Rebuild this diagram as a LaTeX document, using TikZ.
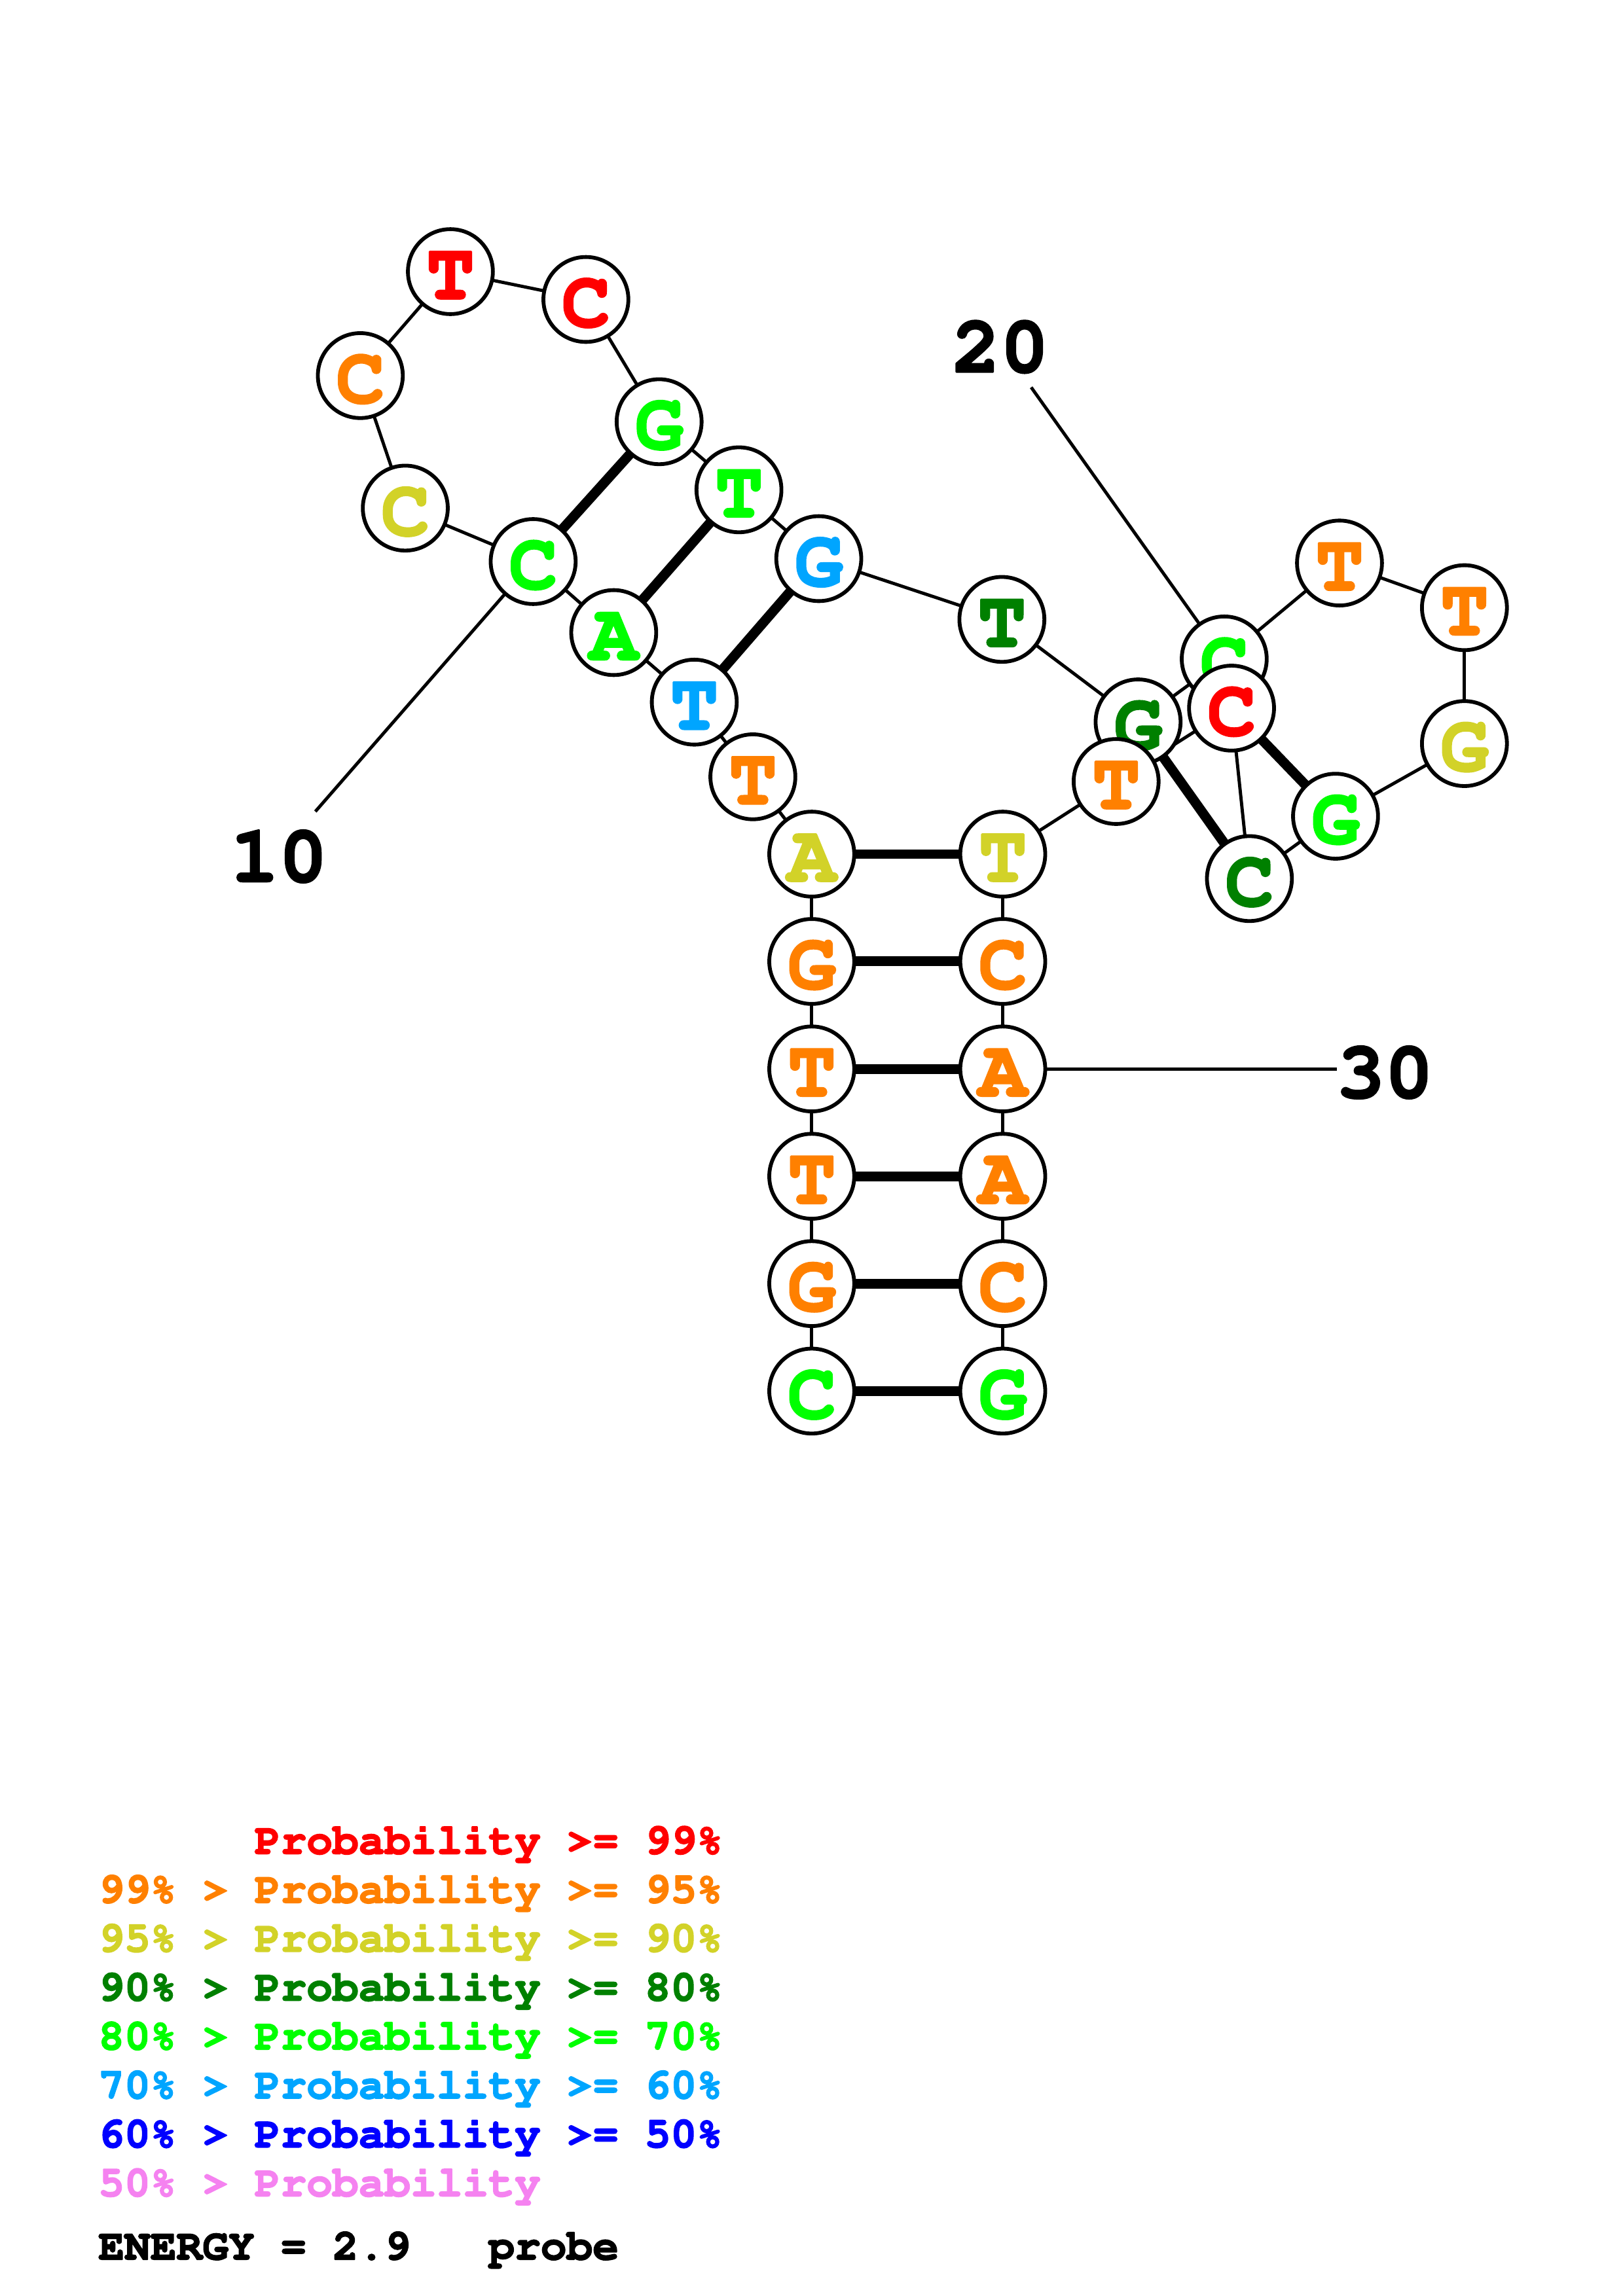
\documentclass[tikz,border=0pt]{standalone}
\usepackage[T1]{fontenc}
\newcommand{\cour}{\fontencoding{T1}\fontfamily{pcr}\fontseries{b}\selectfont}
\definecolor{pRed}{RGB}{255,0,0}
\definecolor{pOrange}{RGB}{255,128,0}
\definecolor{pYellow}{RGB}{210,210,40}
\definecolor{pDGreen}{RGB}{0,128,0}
\definecolor{pGreen}{RGB}{0,255,0}
\definecolor{pCyan}{RGB}{0,165,255}
\definecolor{pBlue}{RGB}{0,0,255}
\definecolor{pPink}{RGB}{245,130,240}
\pgfdeclarelayer{paper}
\pgfdeclarelayer{background}
\pgfsetlayers{paper,background,main}
\begin{document}
\begin{tikzpicture}[x=1pt,y=-1pt,
  heavy/.style={execute at begin node={\special{pdf:literal direct 2 Tr #1 w 1 j}},
                execute at end node={\special{pdf:literal direct 0 Tr 0 j}}},
  nt/.style={circle,draw=black,line width=2.6pt,fill=white,minimum size=58pt,inner sep=0pt,
    font={\cour\fontsize{55}{55}\selectfont},text height=37pt,text depth=0pt,heavy=1.3},
  bb/.style={line width=2.2pt},
  bp/.style={line width=6.7pt},
  lbl/.style={font={\cour\fontsize{55}{55}\selectfont},anchor=base,inner sep=0pt,heavy=1.3},
  leg/.style={font={\cour\fontsize{29.6}{30}\selectfont},anchor=base west,inner sep=0pt,heavy=0.8}]
\useasboundingbox (0,0) rectangle (1108,1568);
\begin{pgfonlayer}{paper}
  \fill[white] (0,0) rectangle (1108,1568);
\end{pgfonlayer}
% nucleotides
\node[nt,text=pGreen]  (n1)  at (554.2,950)   {C};
\node[nt,text=pOrange] (n2)  at (554.2,876.6) {G};
\node[nt,text=pOrange] (n3)  at (554.2,803.3) {T};
\node[nt,text=pOrange] (n4)  at (554.2,730)   {T};
\node[nt,text=pOrange] (n5)  at (554.2,656.6) {G};
\node[nt,text=pYellow] (n6)  at (554.2,583.3) {A};
\node[nt,text=pOrange] (n7)  at (514,530.5)   {T};
\node[nt,text=pCyan]   (n8)  at (474,479.5)   {T};
\node[nt,text=pGreen]  (n9)  at (419,432)     {A};
\node[nt,text=pGreen]  (n10) at (364,383.5)   {C};
\node[nt,text=pYellow] (n11) at (276.7,347)   {C};
\node[nt,text=pOrange] (n12) at (246,256.5)   {C};
\node[nt,text=pRed]    (n13) at (307.5,185.5) {T};
\node[nt,text=pRed]    (n14) at (400,204.5)   {C};
\node[nt,text=pGreen]  (n15) at (450,288)     {G};
\node[nt,text=pGreen]  (n16) at (504.5,334.5) {T};
\node[nt,text=pCyan]   (n17) at (559,381.5)   {G};
\node[nt,text=pDGreen] (n18) at (684,423)     {T};
\node[nt,text=pDGreen] (n19) at (777,493)     {G};
\node[nt,text=pGreen]  (n20) at (835.8,450)   {C};
\node[nt,text=pOrange] (n21) at (914.5,384.5) {T};
\node[nt,text=pOrange] (n22) at (999.8,415)   {T};
\node[nt,text=pYellow] (n23) at (999.8,507.8) {G};
\node[nt,text=pGreen]  (n24) at (911.8,557.4) {G};
\node[nt,text=pDGreen] (n25) at (853,600)     {C};
\node[nt,text=pRed]    (n26) at (840.8,483.6) {C};
\node[nt,text=pOrange] (n27) at (762,533.7)   {T};
\node[nt,text=pYellow] (n28) at (684.6,583.3) {T};
\node[nt,text=pOrange] (n29) at (684.6,656.6) {C};
\node[nt,text=pOrange] (n30) at (684.6,730)   {A};
\node[nt,text=pOrange] (n31) at (684.6,803.3) {A};
\node[nt,text=pOrange] (n32) at (684.6,876.6) {C};
\node[nt,text=pGreen]  (n33) at (684.6,950)   {G};
% number labels
\node[lbl] (l10) at (190.5,602) {10};
\node[lbl] (l20) at (683,254) {20};
\node[lbl] (l30) at (945.5,749.5) {30};
\coordinate (e10) at (215.3,554.2);
\coordinate (e20) at (704,264.5);
\coordinate (e30) at (912.6,730);
\begin{pgfonlayer}{background}
  \foreach \a/\b in {1/2,2/3,3/4,4/5,5/6,6/7,7/8,8/9,9/10,10/11,11/12,12/13,13/14,14/15,15/16,16/17,17/18,18/19,19/20,20/21,21/22,22/23,23/24,24/25,25/26,26/27,27/28,28/29,29/30,30/31,31/32,32/33}
    \draw[bb] (n\a.center) -- (n\b.center);
  \foreach \a/\b in {15/10,16/9,17/8,6/28,5/29,4/30,3/31,2/32,1/33,19/25,26/24}
    \draw[bp] (n\a.center) -- (n\b.center);
  \draw[bb] (n10.center) -- (e10);
  \draw[bb] (n20.center) -- (e20);
  \draw[bb] (n30.center) -- (e30);
\end{pgfonlayer}
% legend
\node[leg,text=pRed]    (g1) at (173.6,1266)   {Probability >= 99\%};
\node[leg,text=pOrange] (g2) at (67,1299.4)    {99\% > Probability >= 95\%};
\node[leg,text=pYellow] (g3) at (67,1332.8)    {95\% > Probability >= 90\%};
\node[leg,text=pDGreen] (g4) at (67,1366.2)    {90\% > Probability >= 80\%};
\node[leg,text=pGreen]  (g5) at (67,1399.6)    {80\% > Probability >= 70\%};
\node[leg,text=pCyan]   (g6) at (67,1433)      {70\% > Probability >= 60\%};
\node[leg,text=pBlue]   (g7) at (67,1466.4)    {60\% > Probability >= 50\%};
\node[leg,text=pPink]   (g8) at (67,1499.8)    {50\% > Probability};
\node[leg,text=black]   (g9) at (67,1543)      {ENERGY = 2.9~~~probe};
\end{tikzpicture}
\end{document}
